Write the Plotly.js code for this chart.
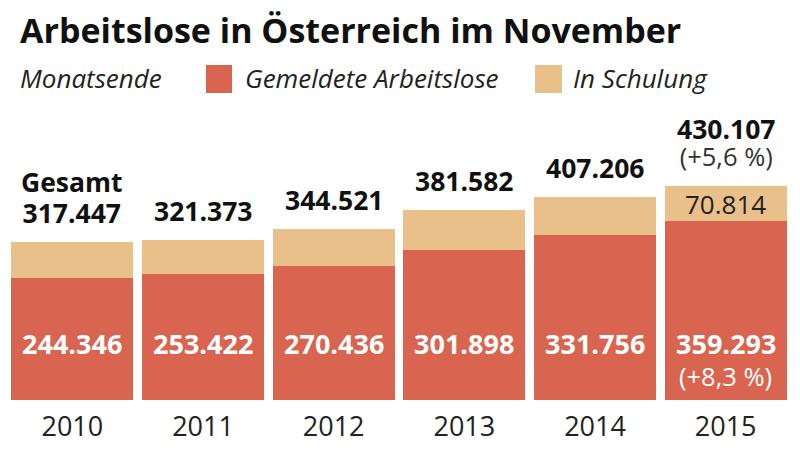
<!DOCTYPE html>
<html>
<head>
<meta charset="utf-8">
<script src="https://cdn.plot.ly/plotly-3.0.1.min.js"></script>
<style>html,body{margin:0;padding:0;background:#fff;}#chart{width:800px;height:452px;}</style>
</head>
<body>
<div id="chart"></div>
<script>
// ---- data ----
const years = ['2010', '2011', '2012', '2013', '2014', '2015'];
const gemeldete = [244346, 253422, 270436, 301898, 331756, 359293];
const schulung = [73101, 67951, 74085, 79684, 75450, 70814];
const gesamt = [317447, 321373, 344521, 381582, 407206, 430107];
const seriesNames = ['Gemeldete Arbeitslose', 'In Schulung'];
const gesamtLabel = 'Gesamt';
const changeGesamt = '(+5,6 %)';
const changeGemeldet = '(+8,3 %)';

// ---- style ----
const RED = '#d9644f';
const TAN = '#e9bf8a';
const FONT = 'Open Sans, sans-serif';
const W = 800, H = 452;
const M = {l: 7, r: 9, t: 122, b: 52};
const PW = W - M.l - M.r, PH = H - M.t - M.b;
const px = x => (x - M.l) / PW;
const py = y => (H - M.b - y) / PH;

function fmt(n) {
  return String(n).replace(/\B(?=(\d{3})+(?!\d))/g, '.');
}

const xs = years.map((_, i) => i);

const traces = [
  {type: 'bar', x: xs, y: gemeldete, name: seriesNames[0], marker: {color: RED}, hoverinfo: 'none'},
  {type: 'bar', x: xs, y: schulung, name: seriesNames[1], marker: {color: TAN}, hoverinfo: 'none'}
];

const ann = [];
const last = years.length - 1;
years.forEach((yr, i) => {
  let text, size = 26.5, shift = 29;
  if (i === 0) {
    text = '<b>' + gesamtLabel + '</b><br><b>' + fmt(gesamt[i]) + '</b>';
    size = 24; shift = 45;
    text = '<span style="font-size:26.5px">' + text + '</span>';
  } else if (i === last) {
    text = '<span style="font-size:26.5px"><b>' + fmt(gesamt[i]) + '</b></span><br>' +
      '<span style="font-size:25.5px;fill:#333">' + changeGesamt + '</span>';
    size = 20.5; shift = 44;
  } else {
    text = '<b>' + fmt(gesamt[i]) + '</b>';
  }
  ann.push({x: i, y: gesamt[i], xref: 'x', yref: 'y', yanchor: 'middle',
    yshift: shift, text: text, showarrow: false,
    font: {family: FONT, size: size, color: '#111'}});
  ann.push({x: i, y: py(343), xref: 'x', yref: 'paper', yanchor: 'middle',
    text: '<b>' + fmt(gemeldete[i]) + '</b>', showarrow: false,
    font: {family: FONT, size: 27, color: '#fff'}});
});
ann.push({x: last, y: gemeldete[last] + schulung[last] / 2, xref: 'x', yref: 'y', yanchor: 'middle',
  text: fmt(schulung[last]), showarrow: false, font: {family: FONT, size: 26, color: '#222'}});
ann.push({x: last, y: py(376), xref: 'x', yref: 'paper', yanchor: 'middle',
  text: changeGemeldet, showarrow: false, font: {family: FONT, size: 25.5, color: '#fff'}});

// legend row
const LF = {family: FONT, size: 26, color: '#222'};
ann.push({x: px(18), y: py(78), xref: 'paper', yref: 'paper', xanchor: 'left', yanchor: 'middle',
  text: '<i>Monatsende</i>', showarrow: false, font: LF});
ann.push({x: px(243), y: py(78), xref: 'paper', yref: 'paper', xanchor: 'left', yanchor: 'middle',
  text: '<i>' + seriesNames[0] + '</i>', showarrow: false, font: LF});
ann.push({x: px(571), y: py(78), xref: 'paper', yref: 'paper', xanchor: 'left', yanchor: 'middle',
  text: '<i>' + seriesNames[1] + '</i>', showarrow: false, font: LF});

const shapes = [
  {type: 'rect', xref: 'paper', yref: 'paper', x0: px(206), x1: px(232), y0: py(93), y1: py(65),
    fillcolor: RED, line: {width: 0}},
  {type: 'rect', xref: 'paper', yref: 'paper', x0: px(535), x1: px(562), y0: py(93), y1: py(65),
    fillcolor: TAN, line: {width: 0}}
];

const layout = {
  width: W, height: H,
  margin: M,
  paper_bgcolor: '#fff', plot_bgcolor: '#fff',
  barmode: 'stack', bargap: 0.067,
  showlegend: false,
  title: {text: '<b>Arbeitslose in Österreich im November</b>', x: 20 / W, xanchor: 'left',
    xref: 'container', yref: 'container', y: 1 - 31 / H, yanchor: 'middle',
    font: {family: FONT, size: 34, color: '#111'}},
  xaxis: {type: 'linear', range: [-0.5, years.length - 0.5], tickmode: 'array', tickvals: xs, ticktext: years,
    showgrid: false, showline: false, zeroline: false, ticks: '',
    tickfont: {family: FONT, size: 27, color: '#222'}, ticklabelstandoff: 8, fixedrange: true},
  yaxis: {range: [0, 559000], visible: false, showgrid: false, zeroline: false, fixedrange: true},
  annotations: ann,
  shapes: shapes,
  font: {family: FONT}
};

Plotly.newPlot('chart', traces, layout, {displayModeBar: false, staticPlot: true});
</script>
</body>
</html>
